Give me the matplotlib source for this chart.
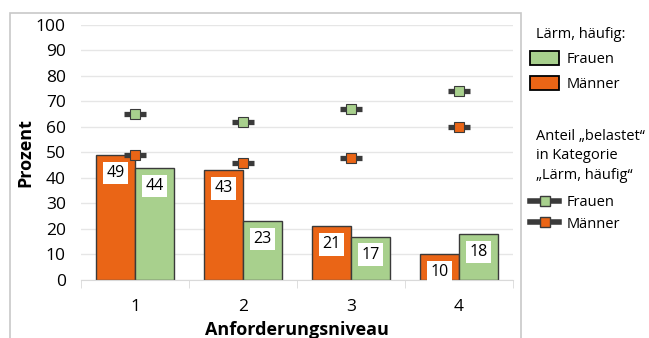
import numpy as np
import matplotlib.pyplot as plt
from matplotlib.patches import Patch, Rectangle
from matplotlib.lines import Line2D

plt.rcParams['font.family'] = ['Open Sans', 'DejaVu Sans']

# Anforderungsniveau 1-4
levels = ["1", "2", "3", "4"]
# Lärm, häufig (Prozent)
frauen = [44, 23, 17, 18]
maenner = [49, 43, 21, 10]
# Anteil "belastet" in Kategorie "Lärm, häufig"
belastet_frauen = [65, 62, 67, 74]
belastet_maenner = [49, 46, 48, 60]

orange = "#EA6516"
green = "#A8D08D"
dark = "#3A3A3A"

fig = plt.figure(figsize=(6.49, 3.38), dpi=100)
ax = fig.add_axes([0.125, 0.172, 0.665, 0.754])

# outer chart frame
fig.patches.append(Rectangle((10 / 649, -0.05), 511 / 649, 1.05 - 13 / 338,
                             transform=fig.transFigure, fill=False,
                             edgecolor="#C8C8C8", linewidth=1.2))

x = np.arange(len(levels))
w = 0.36
bm = ax.bar(x - w / 2, maenner, w, color=orange, edgecolor=dark, linewidth=1, zorder=2)
bf = ax.bar(x + w / 2, frauen, w, color=green, edgecolor=dark, linewidth=1, zorder=2)

# value labels in white boxes just below the bar tops
for bars, vals in ((bm, maenner), (bf, frauen)):
    for b, v in zip(bars, vals):
        ax.annotate(str(v), (b.get_x() + b.get_width() / 2, v),
                    xytext=(0, -13), textcoords="offset points",
                    ha="center", va="center", fontsize=11.5, zorder=4,
                    bbox=dict(boxstyle="square,pad=0.2", fc="white", ec="none"))

# "belastet" markers: dark dash with square on top, at category centre
for vals, col in ((belastet_maenner, orange), (belastet_frauen, green)):
    ax.plot(x, vals, linestyle="none", marker="_", markersize=16,
            markeredgewidth=3.8, color=dark, zorder=5)
    ax.plot(x, vals, linestyle="none", marker="s", markersize=7.5,
            markerfacecolor=col, markeredgecolor=dark, markeredgewidth=0.8, zorder=6)

ax.set_ylim(0, 100)
ax.set_xlim(-0.5, 3.5)
ax.set_yticks(range(0, 101, 10))
ax.set_xticks(x)
ax.set_xticklabels(levels)
ax.set_xticks(np.arange(-0.5, 4, 1), minor=True)
ax.tick_params(axis="x", which="major", length=0, pad=14, labelsize=12.5)
ax.tick_params(axis="x", which="minor", length=6, color="#D9D9D9", direction="out")
ax.tick_params(axis="y", length=0, labelsize=12.5, pad=11)
ax.grid(axis="y", color="#E6E6E6", linewidth=1, zorder=0)
for s in ("top", "right", "left"):
    ax.spines[s].set_visible(False)
ax.spines["bottom"].set_color("#D9D9D9")
ax.set_ylabel("Prozent", fontsize=13, fontweight="bold", labelpad=1)
ax.set_xlabel("Anforderungsniveau", fontsize=13, fontweight="bold", labelpad=4)

# legend for the bars
fig.text(536 / 649, 1 - 35 / 338, "Lärm, häufig:", fontsize=10.5, va="center", ha="left")
h1 = [Patch(facecolor=green, edgecolor="black", linewidth=1.3),
      Patch(facecolor=orange, edgecolor="black", linewidth=1.3)]
fig.legend(h1, ["Frauen", "Männer"], loc="upper left",
           bbox_to_anchor=(530 / 649, 1 - 51 / 338), frameon=False,
           fontsize=10.5, handlelength=2.0, handleheight=1.1,
           handletextpad=0.5, labelspacing=0.6, borderaxespad=0, borderpad=0)

# legend for the markers
fig.text(536 / 649, 1 - 129 / 338, "Anteil „belastet“\nin Kategorie\n„Lärm, häufig“",
         fontsize=10.5, va="top", ha="left", linespacing=1.4)
h2 = [Line2D([], [], color=dark, linewidth=4, marker="s", markersize=7.5,
             markerfacecolor=green, markeredgecolor=dark),
      Line2D([], [], color=dark, linewidth=4, marker="s", markersize=7.5,
             markerfacecolor=orange, markeredgecolor=dark)]
fig.legend(h2, ["Frauen", "Männer"], loc="upper left",
           bbox_to_anchor=(530 / 649, 1 - 195 / 338), frameon=False,
           fontsize=10.5, handlelength=2.0,
           handletextpad=0.5, labelspacing=0.45, borderaxespad=0, borderpad=0)

fig.savefig("out.png", dpi=100)
